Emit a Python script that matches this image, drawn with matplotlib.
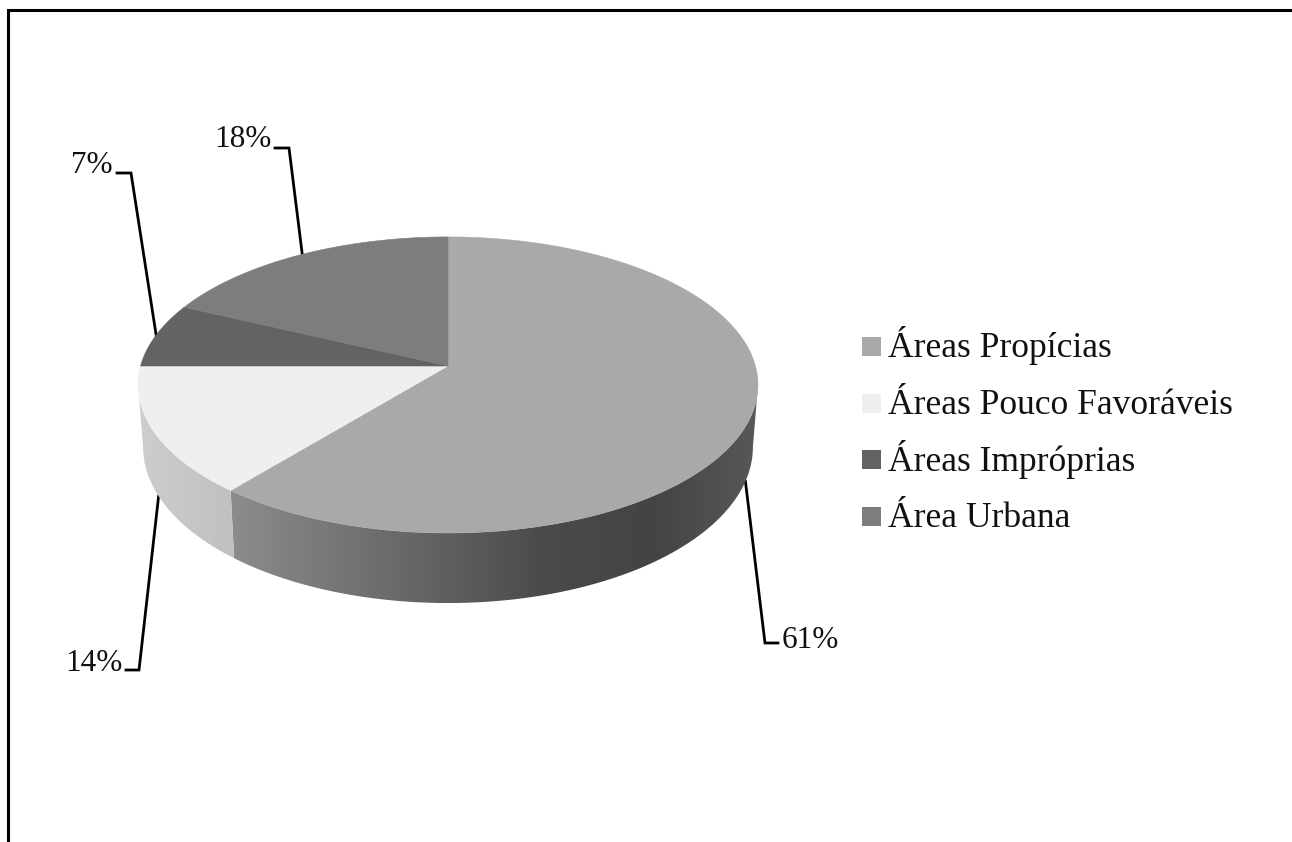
import numpy as np
import matplotlib
matplotlib.use('Agg')
import matplotlib.pyplot as plt
from matplotlib.colors import LinearSegmentedColormap
from matplotlib.patches import Polygon, Rectangle

# slices, clockwise from 12 o'clock
labels = ['Áreas Propícias', 'Áreas Pouco Favoráveis', 'Áreas Impróprias', 'Área Urbana']
values = [61, 14, 7, 18]
pct_labels = ['61%', '14%', '7%', '18%']
top_colors = ['#a9a9a9', '#efefef', '#636363', '#7d7d7d']
wall_colors = [['#8c8c8c', '#767676', '#606060', '#4a4a4a', '#444444', '#585858'],
               ['#cdcdcd', '#c0c0c0'], ['#555555', '#555555'], ['#666666', '#666666']]

plt.rcParams['font.family'] = ['Liberation Serif', 'DejaVu Serif']

fig = plt.figure(figsize=(12.92, 8.42), dpi=100)
ax = fig.add_axes([0, 0, 1, 1])
ax.axis('off')

# the 3d look: circle -> screen with a bit of perspective
CX = 448
HUB_Y = 366
TILT = 0.128


def project(phi, level='top'):
    u, v = np.sin(np.radians(phi)), np.cos(np.radians(phi))
    if level == 'top':
        hub, ax_x, ax_y = HUB_Y, 307.4, 145.6
    else:
        hub, ax_x, ax_y = 427, 302.4, 153.5
    d = 1 + TILT * v
    return CX + ax_x * u / d, hub - ax_y * v / d


edges = np.cumsum([0] + values) * 3.6
VIS0, VIS1 = 97.4, 262.6   # silhouette of the wall

# side wall, a horizontal gradient clipped to the outline of each slice
for i in range(len(values)):
    a, b = max(edges[i], VIS0), min(edges[i + 1], VIS1)
    if a >= b:
        continue
    phis = np.linspace(a, b, 240)
    xt, yt = project(phis)
    xb, yb = project(phis, 'bottom')
    outline = np.c_[np.r_[xt, xb[::-1]], np.r_[yt, yb[::-1]]]
    cmap = LinearSegmentedColormap.from_list('wall', wall_colors[i])
    im = ax.imshow(np.linspace(0, 1, 256)[None, :], cmap=cmap, aspect='auto', zorder=2,
                   extent=(outline[:, 0].min(), outline[:, 0].max(), outline[:, 1].max(), outline[:, 1].min()))
    clip = Polygon(outline, closed=True, transform=ax.transData, facecolor='none', edgecolor='none')
    ax.add_patch(clip)
    im.set_clip_path(clip)

# top face
for i in range(len(values)):
    phis = np.linspace(edges[i], edges[i + 1], 200)
    x, y = project(phis)
    ax.fill(np.r_[CX, x], np.r_[HUB_Y, y], color=top_colors[i], lw=0.4, zorder=3)

# leader lines and percentage labels
elbows = [(765, 643, 778), (139, 670, 126), (131, 173, 117), (289, 148, 275)]
text_pos = [(782, 648, 'left'), (123, 671, 'right'), (113, 173, 'right'), (272, 147, 'right')]
anchor_level = ['bottom', 'bottom', 'top', 'top']
anchor_nudge = [0, 0, 0, 3]
for i in range(len(values)):
    mid_phi = (edges[i] + edges[i + 1]) / 2
    px, py = project(mid_phi, anchor_level[i])
    ex, ey, tail = elbows[i]
    ax.plot([px + anchor_nudge[i], ex, tail], [py, ey, ey], color='black', lw=2.0, zorder=1,
            solid_joinstyle='miter')
    tx, ty, ha = text_pos[i]
    ax.text(tx, ty, pct_labels[i], ha=ha, va='baseline', fontsize=22.5, color='#111111')

# legend
swatch_y = [346, 403, 459, 516]
text_y = [357, 414, 471, 527]
for i in range(len(labels)):
    ax.add_patch(Rectangle((862, swatch_y[i] - 9.5), 19, 19, facecolor=top_colors[i], edgecolor='none'))
    ax.text(888, text_y[i], labels[i], ha='left', va='baseline', fontsize=25.6, color='#111111')

# image frame, only top and left are visible
ax.plot([8, 8, 1292], [842, 10, 10], color='black', lw=2.2, zorder=5, solid_joinstyle='miter')

# imshow changes the limits, so fix them last
ax.set_xlim(0, 1292)
ax.set_ylim(842, 0)

fig.savefig('out.png', dpi=100)
